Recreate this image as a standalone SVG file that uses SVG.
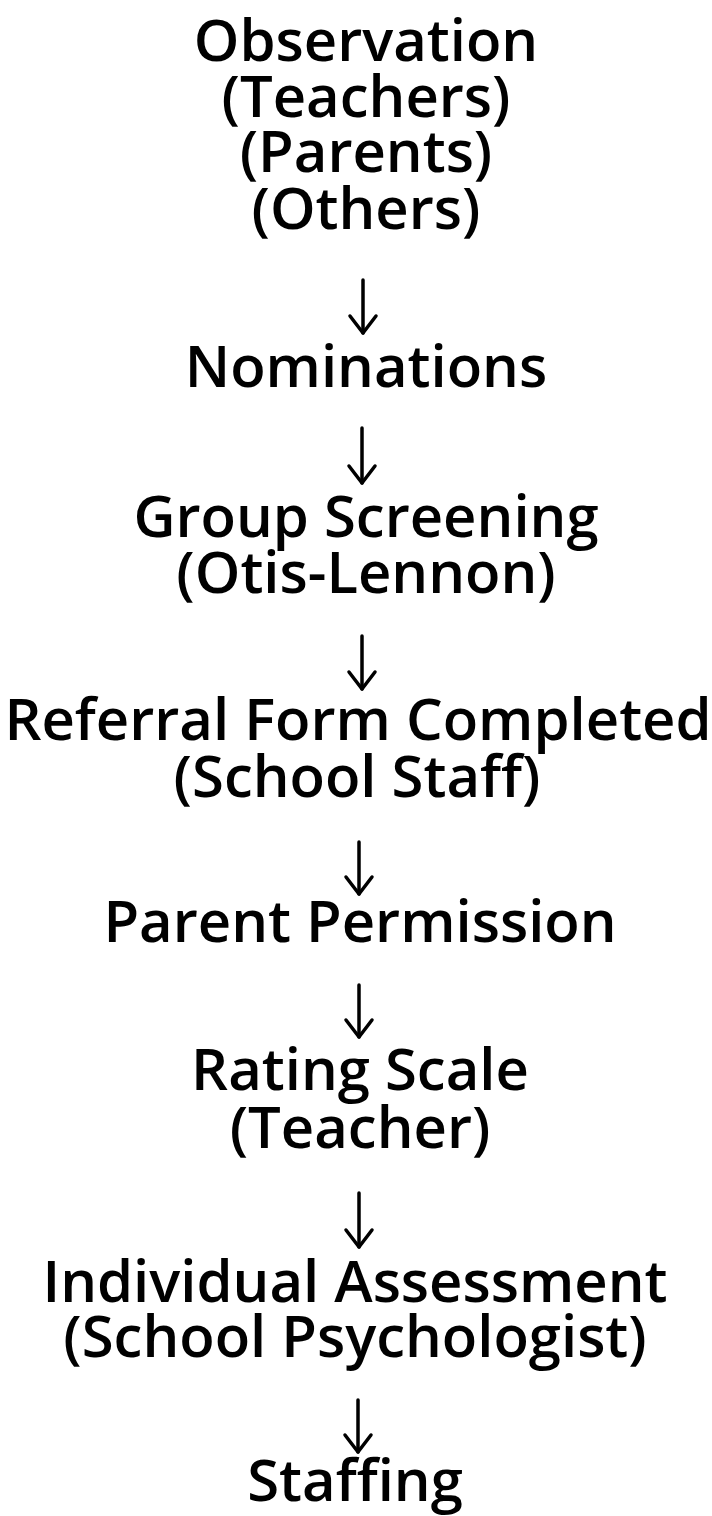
<svg xmlns="http://www.w3.org/2000/svg" width="712" height="1516" viewBox="0 0 712 1516">
<style>
text{font-family:"Open Sans","Noto Sans",sans-serif;font-size:58px;font-weight:600;fill:#000;text-anchor:middle}
.c{stroke:#000;stroke-width:3.5;fill:none;stroke-linecap:round;stroke-linejoin:round}
</style>
<rect width="712" height="1516" fill="#fff"/>
<g id="n1"><text x="366" y="61">Observation</text><text x="366" y="117">(Teachers)</text><text x="366" y="172">(Parents)</text><text x="366" y="229">(Others)</text></g>
<g id="n2"><text x="366" y="387">Nominations</text></g>
<g id="n3"><text x="366" y="537">Group Screening</text><text x="366" y="593">(Otis-Lennon)</text></g>
<g id="n4"><text x="358" y="740" font-size="57">Referral Form Completed</text><text x="357" y="797">(School Staff)</text></g>
<g id="n5"><text x="360" y="942">Parent Permission</text></g>
<g id="n6"><text x="360" y="1090">Rating Scale</text><text x="360" y="1148">(Teacher)</text></g>
<g id="n7"><text x="355" y="1302">Individual Assessment</text><text x="355" y="1357">(School Psychologist)</text></g>
<g id="n8"><text x="355" y="1501">Staffing</text></g>
<g id="connectors">
<path class="c" d="M363,280 V333"/><path class="c" d="M350,316 L363,333 L376,316"/>
<path class="c" d="M362,428 V483"/><path class="c" d="M349,466 L362,483 L375,466"/>
<path class="c" d="M362,636 V689"/><path class="c" d="M349,672 L362,689 L375,672"/>
<path class="c" d="M359,842 V894"/><path class="c" d="M346,877 L359,894 L372,877"/>
<path class="c" d="M359,985 V1037"/><path class="c" d="M346,1020 L359,1037 L372,1020"/>
<path class="c" d="M359,1193 V1247"/><path class="c" d="M346,1230 L359,1247 L372,1230"/>
<path class="c" d="M358,1400 V1452"/><path class="c" d="M345,1435 L358,1452 L371,1435"/>
</g>
</svg>
